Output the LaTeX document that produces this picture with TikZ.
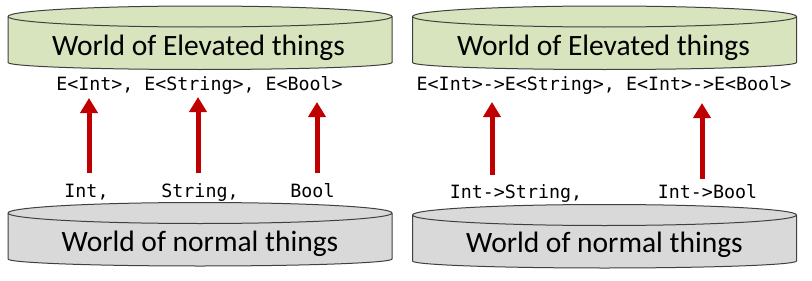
\documentclass[tikz,border=0pt]{standalone}
\usepackage{fontspec}
\setmainfont{Carlito}
\newfontfamily\codefont{DejaVu Sans Mono}
\usetikzlibrary{arrows.meta}

\definecolor{elevgreen}{HTML}{D7E4BD}
\definecolor{normgray}{HTML}{D9D9D9}
\definecolor{canline}{HTML}{404040}
\definecolor{liftred}{HTML}{C00000}

\tikzset{
  pics/can/.style={code={
    \path[draw=canline, fill=#1, line width=1pt]
      (-192,0) -- (-192,-46)
      arc[start angle=180, end angle=360, x radius=192, y radius=7]
      -- (192,0)
      arc[start angle=0, end angle=180, x radius=192, y radius=10.5] -- cycle;
    \draw[canline, line width=1pt]
      (-192,0) arc[start angle=180, end angle=360, x radius=192, y radius=10.5];
  }},
  world/.style={anchor=base, inner sep=0pt, font=\fontsize{29.5}{32}\selectfont},
  code/.style={anchor=base, inner sep=0pt, font=\codefont\fontsize{18.3}{20}\selectfont},
  lift/.style={-{Triangle[width=17pt, length=15pt]}, line width=5pt, liftred}
}

\begin{document}
\begin{tikzpicture}[x=1pt, y=1pt]
  \useasboundingbox (0,0) rectangle (812,-281);

  % the two worlds, left and right
  \pic at (200,-16.5) {can=elevgreen};
  \pic at (200,-213) {can=normgray};
  \pic at (604.5,-16.5) {can=elevgreen};
  \pic at (604.5,-215) {can=normgray};

  \node[world] (elevL) at (198.5,-55) {World of Elevated things};
  \node[world] (normL) at (200,-251) {World of normal things};
  \node[world] (elevR) at (603.5,-55) {World of Elevated things};
  \node[world] (normR) at (604.5,-252) {World of normal things};

  % types
  \node[code] (etypes) at (199.5,-90) {E<Int>,  E<String>,  E<Bool>};
  \node[code] (int) at (86.5,-197) {Int,};
  \node[code] (string) at (200,-197) {String,};
  \node[code] (bool) at (312.5,-197) {Bool};

  % functions
  \node[code] (efuncs) at (604,-90) {E<Int>->E<String>, E<Int>->E<Bool>};
  \node[code] (intstr) at (516,-198) {Int->String,};
  \node[code] (intbool) at (707.5,-198) {Int->Bool};

  % lifting arrows
  \coordinate (lo1) at (89,-173);  \coordinate (hi1) at (89,-98);
  \coordinate (lo2) at (198,-173); \coordinate (hi2) at (198,-97);
  \coordinate (lo3) at (317,-173); \coordinate (hi3) at (317,-102);
  \coordinate (lo4) at (492,-175); \coordinate (hi4) at (492,-102);
  \coordinate (lo5) at (702,-179); \coordinate (hi5) at (702,-103);
  \foreach \i in {1,...,5}
    \draw[lift] (lo\i) -- (hi\i);
\end{tikzpicture}
\end{document}
